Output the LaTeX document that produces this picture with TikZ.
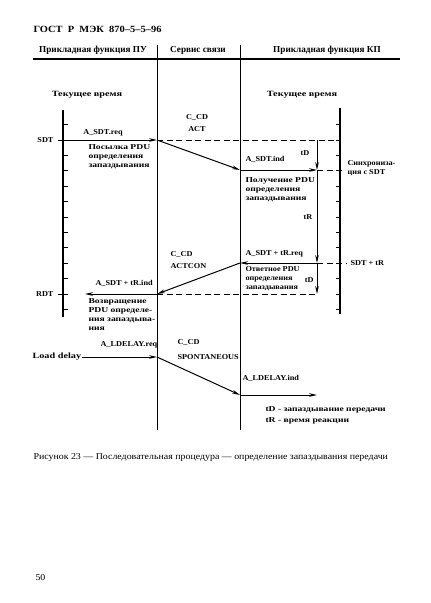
\documentclass[tikz,border=0pt]{standalone}
\usepackage{fontspec}
\setmainfont{Liberation Serif}
\newfontfamily\wideA[Ligatures=TeX,FakeStretch=1.1]{Liberation Serif}
\newfontfamily\wideB[Ligatures=TeX,FakeStretch=1.28]{Liberation Serif}
\usetikzlibrary{arrows.meta,positioning}

\begin{document}
\begin{tikzpicture}[x=1pt,y=-1pt,->,>={Stealth[length=8pt,width=3.6pt]},line width=1pt,
    lbl/.style={font=\wideA\bfseries\fontsize{7.5}{9}\selectfont,inner sep=0pt},
    note/.style={font=\wideB\bfseries\fontsize{7.5}{9}\selectfont,inner sep=0pt,align=left,anchor=north west},
    big/.style={font=\wideB\bfseries\fontsize{8}{9}\selectfont,inner sep=0pt},
    head/.style={font=\bfseries\fontsize{9.2}{10}\selectfont,inner sep=0pt}]

    \tikzstyle{lane}=[-,line width=1pt]
    \tikzstyle{axis}=[-,line width=1.1pt]
    \tikzstyle{level}=[-,dash pattern=on 6pt off 3.5pt,line width=1pt]

    \useasboundingbox (0,0) rectangle (431,603);

    % page head
    \node[head,font=\wideA\bfseries\fontsize{9.5}{10}\selectfont,anchor=west] (gost) at (33,29) {ГОСТ\ \ Р\ \ МЭК\ \ 870--5--5--96};
    \node[head] (colPU) at (93,50)  {Прикладная функция ПУ};
    \node[head] (colSS) at (198,50) {Сервис связи};
    \node[head] (colKP) at (327,50) {Прикладная функция КП};
    \coordinate (ruleW) at (33,59);
    \coordinate (ruleE) at (400,59);
    \draw[-,line width=1.5pt] (ruleW) -- (ruleE);

    % lanes
    \coordinate (laneAt) at (157,45);  \coordinate (laneAb) at (157,430);
    \coordinate (laneBt) at (240,45);  \coordinate (laneBb) at (240,430);
    \draw[lane] (laneAt) -- (laneAb);
    \draw[lane] (laneBt) -- (laneBb);

    \node[big] (timePU) at (87,95)  {Текущее время};
    \node[big] (timeKP) at (302,95) {Текущее время};

    % time axes
    \coordinate (axLt) at (63,110);  \coordinate (axLb) at (63,317);
    \coordinate (axRt) at (340,108); \coordinate (axRb) at (340,314);
    \draw[axis] (axLt) -- (axLb);
    \draw[axis] (axRt) -- (axRb);
    \foreach \k in {0,...,12}{
      \draw[axis,line width=0.9pt] (63,124.6+15.4*\k) -- ++(4.5,0);
      \draw[axis,line width=0.9pt] (340,124.6+15.4*\k) -- ++(-4.5,0);
    }
    \draw[axis,line width=0.9pt] (58,140) -- (63,140);
    \draw[axis,line width=0.9pt] (58,294) -- (63,294);

    \node[lbl,anchor=east] (sdt) at (54,140) {SDT};
    \node[lbl,anchor=east] (rdt) at (54,294) {RDT};
    \node[big,anchor=west] (load) at (32,357) {Load delay};

    % event points
    \coordinate (sdtL) at (63,140);
    \coordinate (sdtA) at (157,140);
    \coordinate (sdtT) at (317,140);
    \coordinate (sdtR) at (340,140);
    \coordinate (indB) at (240,170);
    \coordinate (indT) at (317,170);
    \coordinate (syncR) at (344,170);
    \coordinate (reqT) at (317,263);
    \coordinate (reqB) at (240,263);
    \coordinate (reqR) at (346,263);
    \coordinate (rdtA) at (157,294);
    \coordinate (rdtT) at (317,294);
    \coordinate (rdtL) at (85,294);
    \coordinate (ldA) at (157,357);
    \coordinate (ldB) at (240,395);
    \coordinate (ldT) at (317,395);

    % dashed levels
    \draw[level] (sdtA) -- (sdtR);
    \draw[level] (indT) -- (syncR);
    \draw[level] (reqT) -- (reqR);
    \draw[level] (rdtA) -- (rdtT);

    % messages
    \path (sdtL) edge (sdtA)
          (sdtA) edge (indB)
          (indB) edge (indT)
          (sdtT) edge (indT)
          (indT) edge (reqT)
          (reqT) edge (rdtT)
          (reqT) edge (reqB)
          (reqB) edge (rdtA)
          (rdtA) edge (rdtL)
          (load) edge (ldA)
          (ldA)  edge (ldB)
          (ldB)  edge (ldT);

    % labels
    \node[lbl] (sdtReq) at (103,133) {A\_SDT.req};
    \node[lbl] (ccdA) at (197,118) {C\_CD};
    \node[lbl,below=5pt of ccdA] (act) {ACT};
    \node[note] (sendPDU) at (88,144) {Посылка PDU\\определения\\запаздывания};
    \node[lbl,anchor=west] (sdtInd) at (245,159) {A\_SDT.ind};
    \node[note] (recvPDU) at (245,177) {Получение PDU\\определения\\запаздывания};
    \node[lbl] (tD1) at (305,153) {tD};
    \node[lbl] (tR) at (308,217) {tR};
    \node[lbl,align=left,anchor=north west] (sync) at (347,160) {Синхрониза-\\ция с SDT};
    \node[lbl,anchor=west] (sdtR) at (350,263) {SDT + tR};

    \node[lbl,anchor=west] (ccdB) at (170,255) {C\_CD};
    \node[lbl,anchor=north west] (actcon) at (ccdB.south west) [yshift=-5pt] {ACTCON};
    \node[lbl,anchor=west] (trReq) at (245,254) {A\_SDT + tR.req};
    \node[note,font=\wideA\bfseries\fontsize{7.5}{9}\selectfont] (answPDU) at (245,266) {Ответное PDU\\определения\\запаздывания};
    \node[lbl,anchor=east] (tD2) at (314,280) {tD};
    \node[lbl,anchor=west] (trInd) at (95,283) {A\_SDT + tR.ind};
    \node[note] (backPDU) at (88,298) {Возвращение\\PDU определе-\\ния запаздыва-\\ния};

    \node[lbl,anchor=west] (ldReq) at (100,345) {A\_LDELAY.req};
    \node[lbl,anchor=west] (ccdC) at (177,343) {C\_CD};
    \node[lbl,anchor=west] (spont) at (177,357) {SPONTANEOUS};
    \node[lbl,anchor=west] (ldInd) at (242,378) {A\_LDELAY.ind};

    \node[note,anchor=west] (keyD) at (265,410) {tD - запаздывание передачи};
    \node[note,anchor=west] (keyR) at (265,421) {tR - время реакции};

    % caption
    \node[anchor=west,inner sep=0pt,font=\wideA\fontsize{9}{10}\selectfont] (cap) at (33,457)
      {Рисунок 23 --- Последовательная процедура --- определение запаздывания передачи};
    \node[anchor=west,inner sep=0pt,font=\wideA\fontsize{9}{10}\selectfont] (page) at (35,578) {50};
\end{tikzpicture}
\end{document}
